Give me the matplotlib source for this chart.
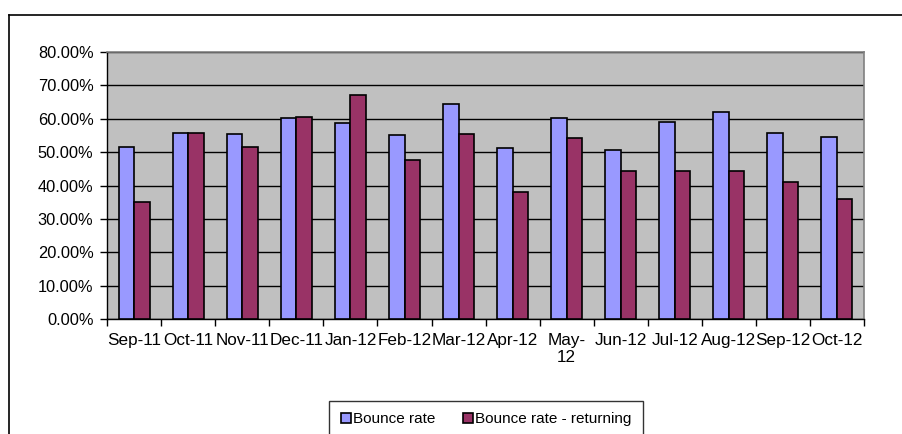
import numpy as np
import matplotlib
matplotlib.use("Agg")
import matplotlib.pyplot as plt
from matplotlib.lines import Line2D
from matplotlib.ticker import FuncFormatter, MultipleLocator

plt.rcParams["font.family"] = ["Liberation Sans", "DejaVu Sans"]

months = ["Sep-11", "Oct-11", "Nov-11", "Dec-11", "Jan-12", "Feb-12", "Mar-12",
          "Apr-12", "May-\n12", "Jun-12", "Jul-12", "Aug-12", "Sep-12", "Oct-12"]
bounce = [51.5, 55.8, 55.5, 60.3, 58.8, 55.0, 64.3, 51.2, 60.1, 50.6, 59.1, 61.9, 55.6, 54.5]
bounce_returning = [35.0, 55.8, 51.5, 60.5, 67.1, 47.8, 55.3, 38.2, 54.2, 44.3, 44.3, 44.5, 41.0, 36.0]

fig = plt.figure(figsize=(9.02, 4.34), dpi=100)
ax = fig.add_axes([0.119, 0.265, 0.8386, 0.615])

x = np.arange(len(months))
w = 0.284
ax.bar(x - w / 2, bounce, width=w, color="#9999FF", edgecolor="black", linewidth=1.2,
       label="Bounce rate", zorder=3)
ax.bar(x + w / 2, bounce_returning, width=w, color="#993366", edgecolor="black", linewidth=1.2,
       label="Bounce rate - returning", zorder=3)

ax.set_facecolor("#C0C0C0")
ax.set_xlim(-0.5, len(months) - 0.5)
ax.set_ylim(0, 80)
ax.yaxis.set_major_locator(MultipleLocator(10))
ax.yaxis.set_major_formatter(FuncFormatter(lambda v, p: f"{v:.2f}%"))
ax.grid(axis="y", color="black", linewidth=1, zorder=1)

ax.set_xticks(x)
ax.set_xticklabels(months, linespacing=1.15)
ax.set_xticks(np.arange(-0.5, len(months)), minor=True)
ax.tick_params(axis="x", which="major", length=0, pad=10, labelsize=12.3)
ax.tick_params(axis="x", which="minor", length=5, width=1, color="black", direction="out")
ax.tick_params(axis="y", length=5, width=1, direction="out", labelsize=11.8, pad=5)

for s in ["top", "right"]:
    ax.spines[s].set_color("#808080")
    ax.spines[s].set_linewidth(1.2)
for s in ["left", "bottom"]:
    ax.spines[s].set_color("black")
    ax.spines[s].set_linewidth(1)

# outer chart frame
fig.add_artist(Line2D([9 / 902, 9 / 902], [0, 1 - 15 / 434], transform=fig.transFigure,
                      color="black", linewidth=1.2))
fig.add_artist(Line2D([9 / 902, 1], [1 - 15 / 434, 1 - 15 / 434], transform=fig.transFigure,
                      color="black", linewidth=1.2))

leg = fig.legend(loc="upper center", bbox_to_anchor=(0.539, 1 - 401 / 434), ncol=2,
                 frameon=True, fancybox=False, edgecolor="black", fontsize=11,
                 handlelength=0.65, handleheight=0.65, handletextpad=0.15, columnspacing=1.8,
                 borderpad=0.75, borderaxespad=0)
leg.get_frame().set_linewidth(1)

fig.savefig("out.png", dpi=100)
